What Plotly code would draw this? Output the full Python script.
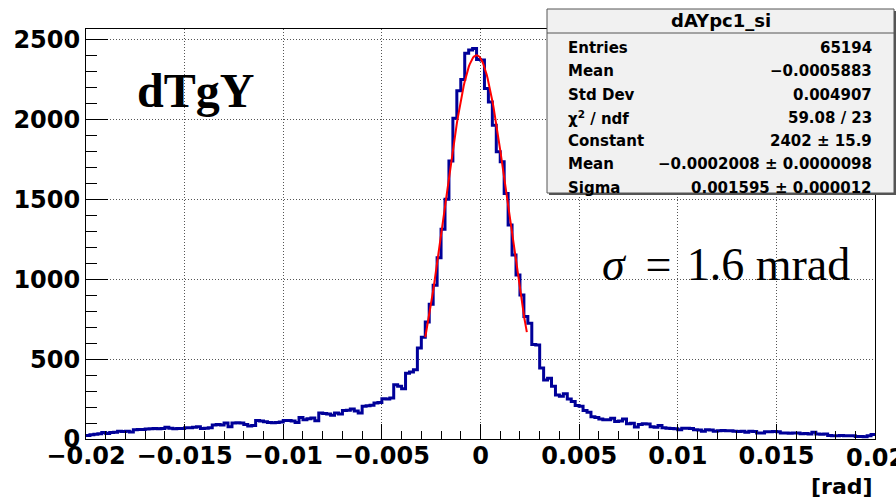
import numpy as np
import plotly.graph_objects as go

# ---- histogram dAYpc1_si : 200 bins on [-0.02, 0.02] rad ----
x_low, x_high, n_bins = -0.02, 0.02, 200
counts = [
    22, 26, 30, 33, 40, 35, 40, 42, 48, 47,
    48, 44, 58, 60, 60, 62, 64, 66, 64, 66,
    74, 68, 64, 66, 65, 70, 71, 74, 76, 66,
    67, 70, 88, 90, 88, 100, 76, 100, 102, 100,
    90, 82, 84, 116, 112, 108, 104, 102, 104, 106,
    116, 116, 112, 104, 135, 120, 127, 131, 114, 162,
    160, 156, 148, 162, 156, 179, 180, 187, 175, 162,
    205, 208, 212, 225, 228, 252, 250, 256, 339, 330,
    314, 412, 420, 433, 569, 637, 733, 844, 962, 1135,
    1313, 1500, 1740, 2008, 2180, 2250, 2415, 2435, 2444, 2375,
    2372, 2194, 2110, 1964, 1798, 1735, 1537, 1339, 1152, 1027,
    902, 767, 725, 592, 588, 444, 370, 380, 330, 275,
    268, 283, 250, 235, 210, 205, 179, 167, 140, 135,
    125, 121, 120, 130, 110, 112, 125, 96, 98, 75,
    90, 96, 94, 76, 74, 85, 70, 68, 66, 64,
    58, 67, 68, 66, 58, 57, 48, 58, 57, 48,
    52, 53, 51, 52, 48, 47, 48, 42, 48, 47,
    37, 38, 46, 45, 47, 45, 37, 38, 36, 37,
    38, 33, 34, 32, 42, 31, 30, 32, 22, 21,
    20, 22, 21, 20, 21, 15, 16, 14, 21, 28,
]

# Gaussian fit result
fit_const = 2402.0
fit_mean = -0.0002008
fit_sigma = 0.001595
fit_range = (-0.0028, 0.00235)

# Statistics box text
stats_title = "dAYpc1_si"
stats_labels = ["Entries", "Mean", "Std Dev", "χ<sup>2</sup> / ndf",
                "Constant", "Mean", "Sigma"]
stats_values = ["65194", "\u22120.0005883", "0.004907", "59.08 / 23",
                "2402 \u00b1 15.9", "\u22120.0002008 \u00b1 0.0000098",
                "0.001595 \u00b1 0.000012"]

x_tick_vals = [-0.02, -0.015, -0.01, -0.005, 0, 0.005, 0.01, 0.015, 0.02]
x_tick_text = ["\u22120.02", "\u22120.015", "\u22120.01", "\u22120.005", "0",
               "0.005", "0.01", "0.015", "0.02"]
y_tick_vals = [0, 500, 1000, 1500, 2000, 2500]

# ---- geometry of the drawing area (pixels) ----
W, H = 896, 502
L, R, T, B = 86, 875, 29, 439


def px(xp):
    return (xp - L) / (R - L)


def py(yp):
    return (B - yp) / (B - T)


edges = np.linspace(x_low, x_high, n_bins + 1)
step_y = list(counts) + [counts[-1]]

xf = np.linspace(fit_range[0], fit_range[1], 120)
yf = fit_const * np.exp(-0.5 * ((xf - fit_mean) / fit_sigma) ** 2)

fig = go.Figure()
fig.add_trace(go.Scatter(
    x=edges, y=step_y, mode="lines", line_shape="hv",
    line=dict(color="#000099", width=3), hoverinfo="skip", showlegend=False))
fig.add_trace(go.Scatter(
    x=xf, y=yf, mode="lines",
    line=dict(color="#ff0000", width=2), hoverinfo="skip", showlegend=False))

tick_font = dict(family="DejaVu Sans", size=24, color="black", weight="bold")
grid = dict(showgrid=True, gridcolor="#555555", gridwidth=1, griddash="1px,2px")

# the last x label sits on the canvas edge; it is placed as an annotation
fig.update_xaxes(
    range=[x_low, x_high], tickvals=x_tick_vals[:-1], ticktext=x_tick_text[:-1],
    ticks="inside", ticklen=15, tickwidth=1, tickcolor="black",
    ticklabelstandoff=-5,
    minor=dict(dtick=0.001, tick0=0, ticks="inside", ticklen=8,
               tickcolor="black", showgrid=False),
    showline=True, linecolor="black", linewidth=1, mirror=True,
    zeroline=False, tickfont=tick_font, **grid)
fig.update_yaxes(
    range=[0, 1.05 * max(counts)], tickvals=y_tick_vals,
    ticks="inside", ticklen=22, tickwidth=1, tickcolor="black",
    minor=dict(dtick=100, tick0=0, ticks="inside", ticklen=11,
               tickcolor="black", showgrid=False),
    showline=True, linecolor="black", linewidth=1, mirror=True,
    zeroline=False, tickfont=tick_font, **grid)

shapes = [
    # statistics box with its drop shadow
    dict(type="rect", xref="paper", yref="paper",
         x0=px(549), x1=px(896), y0=py(195), y1=py(11),
         fillcolor="#555555", line=dict(width=0), layer="above"),
    dict(type="rect", xref="paper", yref="paper",
         x0=px(547), x1=px(894), y0=py(193), y1=py(9),
         fillcolor="#f1f1f1", line=dict(color="#555555", width=1), layer="above"),
    dict(type="line", xref="paper", yref="paper",
         x0=px(547), x1=px(894), y0=py(33), y1=py(33),
         line=dict(color="#555555", width=1), layer="above"),
]

ann = []
ann.append(dict(text=x_tick_text[-1], xref="x", yref="paper", x=x_tick_vals[-1],
                y=py(458), xanchor="center", yanchor="middle", showarrow=False,
                font=tick_font))
ann.append(dict(text=stats_title, xref="paper", yref="paper",
                x=px(720.5), y=py(21), xanchor="center", yanchor="middle",
                showarrow=False,
                font=dict(family="DejaVu Sans", size=18, color="black", weight="bold")))
stat_font = dict(family="DejaVu Sans", size=15, color="black", weight="bold")
for i, (lab, val) in enumerate(zip(stats_labels, stats_values)):
    yy = 48 + 23.3 * i
    ann.append(dict(text=lab, xref="paper", yref="paper", x=px(566), y=py(yy),
                    xanchor="left", yanchor="middle", showarrow=False, font=stat_font))
    ann.append(dict(text=val, xref="paper", yref="paper", x=px(874), y=py(yy),
                    xanchor="right", yanchor="middle", showarrow=False, font=stat_font))

ann.append(dict(text="dTgY", xref="paper", yref="paper", x=px(195), y=py(90),
                xanchor="center", yanchor="middle", showarrow=False,
                font=dict(family="Liberation Serif", size=48, color="black",
                          weight="bold")))
ann.append(dict(text="<i>σ</i>\u2009 = \u200a1.6 mrad", xref="paper", yref="paper",
                x=px(726), y=py(264), xanchor="center", yanchor="middle",
                showarrow=False,
                font=dict(family="Liberation Serif", size=46, color="black")))
ann.append(dict(text="[rad]", xref="paper", yref="paper", x=px(875), y=py(486),
                xanchor="right", yanchor="middle", showarrow=False,
                font=dict(family="DejaVu Sans", size=22, color="black", weight="bold")))

fig.update_layout(
    width=W, height=H,
    margin=dict(l=L, r=W - R, t=T, b=H - B, pad=0),
    paper_bgcolor="white", plot_bgcolor="white",
    shapes=shapes, annotations=ann, showlegend=False,
)

fig.write_html("out.html")
